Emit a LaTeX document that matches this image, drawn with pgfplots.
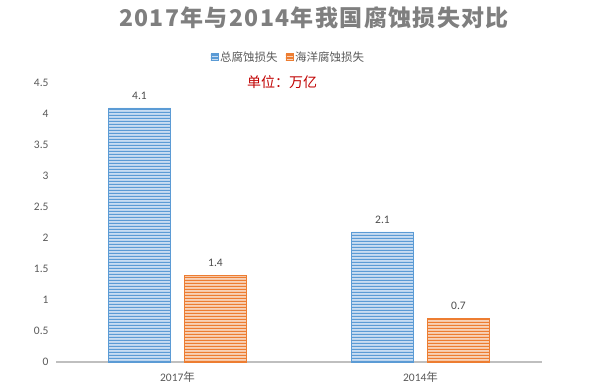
\documentclass[border=0pt]{standalone}
\usepackage{pgfplots}
\pgfplotsset{compat=1.18}
\usetikzlibrary{patterns}
\usepackage{fontspec}
\setmainfont{Carlito}
\newfontfamily\cjk{Noto Sans CJK SC}
\newfontfamily\cjktitle[LetterSpace=6]{Noto Sans CJK SC}
\definecolor{bluedark}{HTML}{5B9BD5}
\definecolor{bluelight}{HTML}{C9DDF2}
\definecolor{orgdark}{HTML}{ED7D31}
\definecolor{orglight}{HTML}{F8D2B8}
\definecolor{txtgray}{HTML}{595959}
\definecolor{titlegray}{HTML}{7F7F7F}
\definecolor{axgray}{HTML}{BFBFBF}
\definecolor{unitred}{HTML}{C00000}
\pgfdeclarepatternformonly{hstripes}{\pgfpointorigin}{\pgfqpoint{1000bp}{3bp}}{\pgfqpoint{1000bp}{3bp}}{%
  \pgfpathrectangle{\pgfpointorigin}{\pgfqpoint{1000bp}{1.5bp}}\pgfusepath{fill}}
\begin{document}
\begin{tikzpicture}
\path[use as bounding box] (-56bp,-30bp) rectangle (546bp,362bp);
\begin{axis}[
  scale only axis,
  width=486bp, height=279bp,
  xmin=-0.5, xmax=1.5,
  ymin=0, ymax=4.5,
  ybar=14bp, bar width=62bp,
  xtick={0,1},
  xticklabels={2017{\cjk 年},2014{\cjk 年}},
  ytick={0,0.5,...,4.5},
  yticklabel style={/pgf/number format/fixed, /pgf/number format/precision=1},
  /pgf/number format/assume math mode=true,
  axis x line*=bottom,
  axis y line*=left,
  y axis line style={draw=none},
  x axis line style={draw=axgray, line width=1.6bp, -},
  major tick length=0pt,
  tick label style={font=\fontsize{11.5bp}{13bp}\selectfont, text=txtgray},
  xticklabel style={yshift=-6bp},
  yticklabel style={xshift=-4bp},
  nodes near coords,
  every node near coord/.append style={font=\fontsize{11.5bp}{13bp}\selectfont, text=txtgray!85!black, yshift=5bp, /pgf/number format/fixed, /pgf/number format/precision=1},
  legend columns=2,
  legend style={at={(0.478,1.093)}, anchor=center, draw=none, fill=none,
    font=\cjk\fontsize{11.5bp}{13bp}\selectfont, text=txtgray,
    /tikz/every even column/.append style={column sep=6bp}},
  legend image code/.code={\fill[#1] (0bp,-3.5bp) rectangle (7bp,3.5bp);},
  clip=false,
]
\addplot[draw=bluedark, line width=0.5bp, fill=bluelight,
  postaction={pattern=hstripes, pattern color=bluedark}]
  coordinates {(0,4.1) (1,2.1)};
\addlegendentry{总腐蚀损失}
\addplot[draw=orgdark, line width=0.5bp, fill=orglight,
  postaction={pattern=hstripes, pattern color=orgdark}]
  coordinates {(0,1.4) (1,0.7)};
\addlegendentry{海洋腐蚀损失}
\end{axis}
\node[font=\cjktitle\bfseries\fontsize{23bp}{28bp}\selectfont, text=titlegray] at (258bp,344bp) {2017年与2014年我国腐蚀损失对比};
\node[font=\cjk\fontsize{14bp}{16bp}\selectfont, text=unitred] at (226bp,280bp) {单位：万亿};
\end{tikzpicture}
\end{document}
